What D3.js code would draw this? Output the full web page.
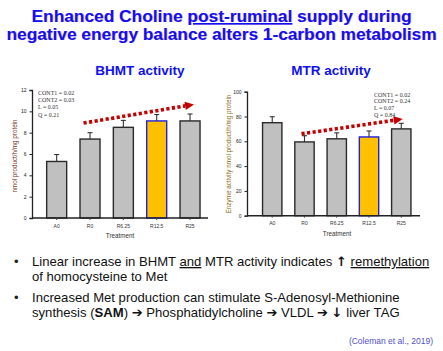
<!DOCTYPE html>
<html><head><meta charset="utf-8">
<script src="https://cdn.jsdelivr.net/npm/d3@7"></script>
<style>
html,body{margin:0;padding:0;background:#fff;}
svg{display:block;}
</style></head>
<body>
<script>
// ---------- data ----------
const categories = ["A0", "R0", "R6.25", "R12.5", "R25"];
const bhmtValues = [5.3, 7.4, 8.5, 9.1, 9.1];
const bhmtErrors = [0.65, 0.6, 0.65, 0.6, 0.65];
const mtrValues = [75, 59.5, 62, 63.5, 70];
const mtrErrors = [4.8, 5.0, 4.8, 4.8, 4.5];
const bhmtTicks = [0, 2, 4, 6, 8, 10, 12];
const mtrTicks = [0, 20, 40, 60, 80, 100];
const bhmtStats = ["CONT1 = 0.02", "CONT2 = 0.03", "L = 0.05", "Q = 0.21"];
const mtrStats = ["CONT1 = 0.02", "CONT2 = 0.24", "L = 0.07", "Q = 0.84"];
const bhmtTrend = [8.9, 10.65];   // dotted arrow start/end values
const mtrTrend = [66, 78];
const highlight = "R12.5";
const titleLines = ["Enhanced Choline ", "post-ruminal", " supply during", "negative energy balance alters 1-carbon metabolism"];

const W = 443, H = 351;
const svg = d3.select("body").append("svg").attr("width", W).attr("height", H);
const SANS = "'Liberation Sans', Arial, sans-serif";
const SERIF = "'Liberation Serif', 'Times New Roman', serif";

// ---------- title ----------
function titleLine(y, parts, width) {
  [["#e6b0ec", 0.8], ["#1010f0", 0]].forEach(([col, off]) => {
    const t = svg.append("text").attr("x", W / 2 + off).attr("y", y + off * 0.3)
      .attr("text-anchor", "middle").attr("font-family", SANS).attr("font-weight", "bold")
      .attr("font-size", 16).attr("fill", col)
      .attr("textLength", width).attr("lengthAdjust", "spacingAndGlyphs");
    parts.forEach(p => t.append("tspan").text(p.t).style("text-decoration", p.u ? "underline" : null));
  });
}
titleLine(22, [{t: titleLines[0]}, {t: titleLines[1], u: true}, {t: titleLines[2]}], 380);
titleLine(40, [{t: titleLines[3]}], 430);

// ---------- chart ----------
function chart(o) {
  const g = svg.append("g");
  const x = d3.scaleBand().domain(categories).range(o.xr).paddingInner(0.4).paddingOuter(0.2);
  const y = d3.scaleLinear().domain([0, o.ticks[o.ticks.length - 1]]).range(o.yr);

  g.append("text").attr("x", o.titleX).attr("y", o.titleY).attr("text-anchor", "middle")
    .attr("font-family", SANS).attr("font-weight", "bold").attr("font-size", 13.5)
    .attr("fill", "#1010f0").text(o.title);

  g.selectAll("rect.bar").data(categories).join("rect")
    .attr("x", d => x(d)).attr("width", x.bandwidth())
    .attr("y", (d, i) => y(o.values[i])).attr("height", (d, i) => y(0) - y(o.values[i]))
    .attr("fill", d => d === highlight ? "#ffc000" : "#c0c0c0")
    .attr("stroke", d => d === highlight ? "#2020e0" : "#2a2a2a").attr("stroke-width", 1.4);

  const eb = g.selectAll("g.err").data(categories).join("g");
  eb.append("line").attr("x1", d => x(d) + x.bandwidth() / 2).attr("x2", d => x(d) + x.bandwidth() / 2)
    .attr("y1", (d, i) => y(o.values[i])).attr("y2", (d, i) => y(o.values[i] + o.errors[i]))
    .attr("stroke", "#333").attr("stroke-width", 1.1);
  eb.append("line").attr("x1", d => x(d) + x.bandwidth() / 2 - 2.5).attr("x2", d => x(d) + x.bandwidth() / 2 + 2.5)
    .attr("y1", (d, i) => y(o.values[i] + o.errors[i])).attr("y2", (d, i) => y(o.values[i] + o.errors[i]))
    .attr("stroke", "#333").attr("stroke-width", 1.1);

  const ya = g.append("g").attr("transform", `translate(${o.axisX},0)`)
    .call(d3.axisLeft(y).tickValues(o.ticks).tickSize(2.5).tickPadding(3));
  ya.select(".domain").attr("stroke", "#222").attr("stroke-width", 1.3);
  ya.selectAll(".tick line").attr("stroke", "#222");
  ya.selectAll(".tick text").attr("font-family", SANS).attr("font-size", 5).attr("fill", "#222");

  g.append("line").attr("x1", o.axisX).attr("x2", o.xEnd).attr("y1", y(0)).attr("y2", y(0))
    .attr("stroke", "#222").attr("stroke-width", 1.5);
  const xa = g.append("g").attr("transform", `translate(0,${y(0)})`)
    .call(d3.axisBottom(x).tickSize(2).tickPadding(4));
  xa.select(".domain").remove();
  xa.selectAll(".tick line").attr("stroke", "#444");
  xa.selectAll(".tick text").attr("font-family", SANS).attr("font-size", 5).attr("fill", "#333");

  g.append("text").attr("x", o.xLabelX).attr("y", o.xLabelY).attr("text-anchor", "middle")
    .attr("font-family", SANS).attr("font-size", 6.3).attr("fill", "#333").text("Treatment");
  g.append("text").attr("transform", `translate(${o.yLabelX},${o.yLabelY}) rotate(-90)`)
    .attr("text-anchor", "middle").attr("font-family", SANS).attr("font-size", 6.3)
    .attr("fill", o.yLabelColor).text(o.yLabel);

  g.selectAll("text.stat").data(o.stats).join("text")
    .attr("x", o.statX).attr("y", (d, i) => o.statY + i * o.statStep)
    .attr("font-family", SERIF).attr("font-size", 6).attr("fill", "#333").text(d => d);

  const x0 = x("R0") + x.bandwidth() / 2 + o.trendDx[0];
  const x1 = x("R25") + x.bandwidth() / 2 + o.trendDx[1];
  const y0 = y(o.trend[0]), y1 = y(o.trend[1]);
  const ang = Math.atan2(y1 - y0, x1 - x0);
  const headL = 9, headW = 4.2;
  const bx = x1 - headL * Math.cos(ang), by = y1 - headL * Math.sin(ang);
  g.append("line").attr("x1", x0).attr("y1", y0).attr("x2", bx).attr("y2", by)
    .attr("stroke", "#c40000").attr("stroke-width", 3.6).attr("stroke-dasharray", "3.2,2.4");
  const px = -Math.sin(ang), py = Math.cos(ang);
  g.append("path").attr("d", `M${x1},${y1}L${bx + px * headW},${by + py * headW}L${bx - px * headW},${by - py * headW}Z`)
    .attr("fill", "#c40000");
}

chart({
  values: bhmtValues, errors: bhmtErrors, ticks: bhmtTicks, stats: bhmtStats, trend: bhmtTrend,
  xr: [40, 206.7], yr: [218, 90], axisX: 32, xEnd: 208,
  title: "BHMT activity", titleX: 140, titleY: 75,
  xLabelX: 120, xLabelY: 237.5, yLabelX: 17, yLabelY: 156,
  yLabel: "nmol product/h/mg protein", yLabelColor: "#7a2e12",
  statX: 38, statY: 95, statStep: 7.2, trendDx: [-6.5, 4]
});
chart({
  values: mtrValues, errors: mtrErrors, ticks: mtrTicks, stats: mtrStats, trend: mtrTrend,
  xr: [256.1, 417.4], yr: [215.7, 91.7], axisX: 247, xEnd: 420,
  title: "MTR activity", titleX: 331, titleY: 75,
  xLabelX: 337, xLabelY: 235.5, yLabelX: 230.5, yLabelY: 154,
  yLabel: "Enzyme activity nmol product/h/mg protein", yLabelColor: "#8a6a10",
  statX: 374, statY: 96.5, statStep: 6.7, trendDx: [-3, 1.5]
});

// ---------- bullets ----------
const BFS = 13.1;
function bulletLine(y, parts, withDot) {
  if (withDot) svg.append("text").attr("x", 14).attr("y", y).attr("font-family", SANS)
    .attr("font-size", BFS).attr("fill", "#222").text("•");
  const t = svg.append("text").attr("x", 32).attr("y", y).attr("font-family", SANS)
    .attr("font-size", BFS).attr("fill", "#111");
  parts.forEach(p => {
    const s = t.append("tspan").text(p.t);
    if (p.u) s.style("text-decoration", "underline");
    if (p.b) s.attr("font-weight", "bold");
    if (p.f) s.attr("font-family", "'DejaVu Sans', sans-serif").attr("font-weight", "bold").attr("font-size", BFS * 1.0);
  });
}
bulletLine(266, [{t: "Linear increase in BHMT "}, {t: "and", u: true}, {t: " MTR activity indicates "}, {t: "↑", f: 1}, {t: " "}, {t: "remethylation", u: true}], true);
bulletLine(281, [{t: "of homocysteine to Met"}], false);
bulletLine(301.5, [{t: "Increased Met production can stimulate S-Adenosyl-Methionine"}], true);
bulletLine(316.5, [{t: "synthesis ("}, {t: "SAM", b: 1}, {t: ") "}, {t: "➔", f: 1}, {t: " Phosphatidylcholine "}, {t: "➔", f: 1}, {t: " VLDL "}, {t: "➔", f: 1}, {t: " "}, {t: "↓", f: 1}, {t: " liver TAG"}], false);

svg.append("text").attr("x", 433).attr("y", 344).attr("text-anchor", "end")
  .attr("font-family", SANS).attr("font-size", 8.5).attr("fill", "#5050d0").text("(Coleman et al., 2019)");
</script>
</body></html>
